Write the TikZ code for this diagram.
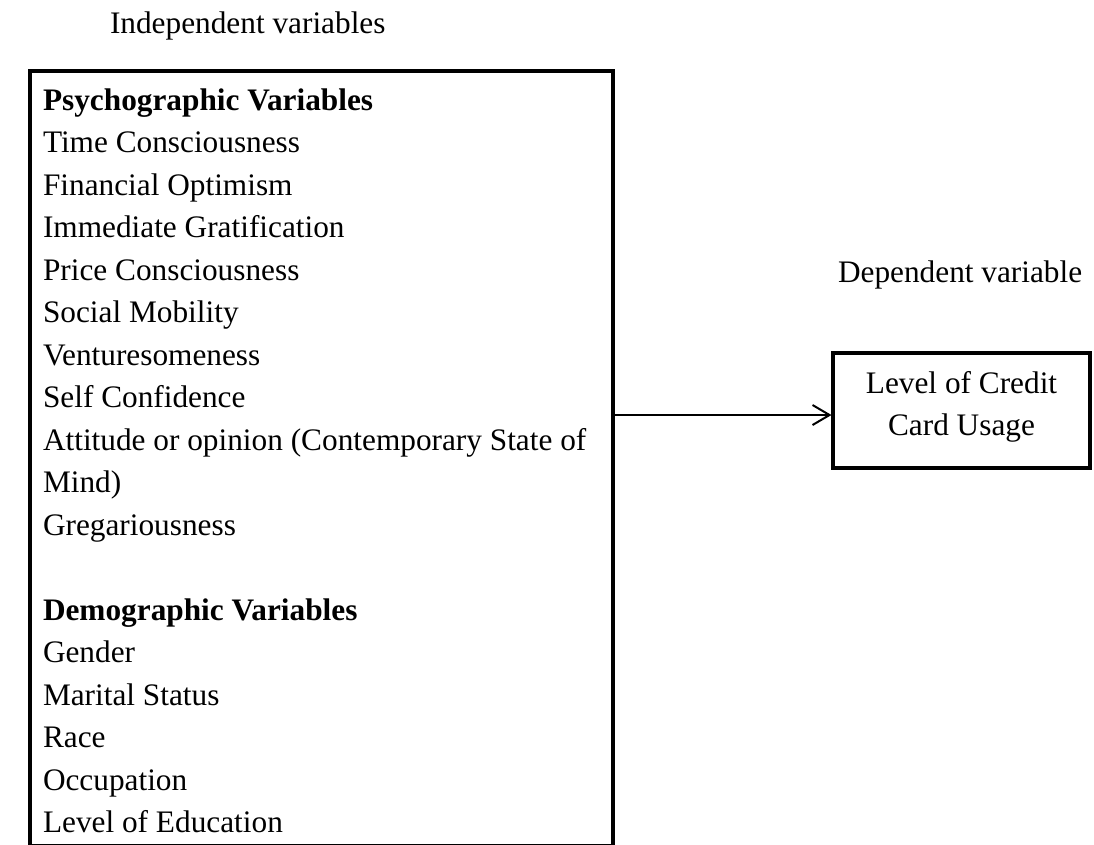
\documentclass[tikz,border=0pt]{standalone}
\usepackage{fontspec}
\setmainfont{Liberation Serif}
\usetikzlibrary{arrows.meta}
\newcommand{\bodyfont}{\fontsize{31.3}{42.5}\selectfont}
\begin{document}
\begin{tikzpicture}[x=1pt,y=-1pt,
  every node/.style={inner sep=0pt, outer sep=0pt, font=\bodyfont},
  frame/.style={draw, line width=4pt, inner sep=0pt, outer sep=0pt},
  item/.style={anchor=base west},
  heading/.style={anchor=base west, font=\bodyfont\bfseries},
  caption/.style={anchor=base west},
  boxline/.style={anchor=base},
  link/.style={line width=2pt, -{Straight Barb[length=17pt,width=20pt]}}]
\useasboundingbox (0,0) rectangle (1094,844);
\clip (0,0) rectangle (1094,844);

% captions above the two columns
\node[caption] (capiv) at (110,33) {Independent variables};
\node[caption] (capdv) at (838,282) {Dependent variable};

% frame of the independent variables (runs past the lower edge)
\node[frame, anchor=north west, minimum width=583pt, minimum height=774.5pt] (iv) at (30,71) {};

% list of independent variables, one line per node
\node[heading] (psy) at (43,110) {Psychographic Variables};
\foreach \txt [count=\i from 0] in {
  Time Consciousness, Financial Optimism, Immediate Gratification,
  Price Consciousness, Social Mobility, Venturesomeness, Self Confidence,
  Attitude or opinion (Contemporary State of, Mind), Gregariousness}
  {\node[item] (p\i) at (43,{152.5+42.5*\i}) {\txt};}

\node[heading] (demo) at (43,620) {Demographic Variables};
\foreach \txt [count=\i from 0] in {
  Gender, Marital Status, Race, Occupation, Level of Education}
  {\node[item] (d\i) at (43,{662.5+42.5*\i}) {\txt};}

% dependent variable box
\node[frame, minimum width=257pt, minimum height=115pt] (dv) at (961.5,410.5) {};
\node[boxline] (dvA) at (dv.center |- 0,393) {Level of Credit};
\node[boxline] (dvB) at (dv.center |- 0,435) {Card Usage};

% relation between the two sides
\draw[link] ([yshift=-4.5pt]iv.east |- dv.west) -- ([yshift=-4.5pt, xshift=-1.5pt]dv.west);
\end{tikzpicture}
\end{document}
